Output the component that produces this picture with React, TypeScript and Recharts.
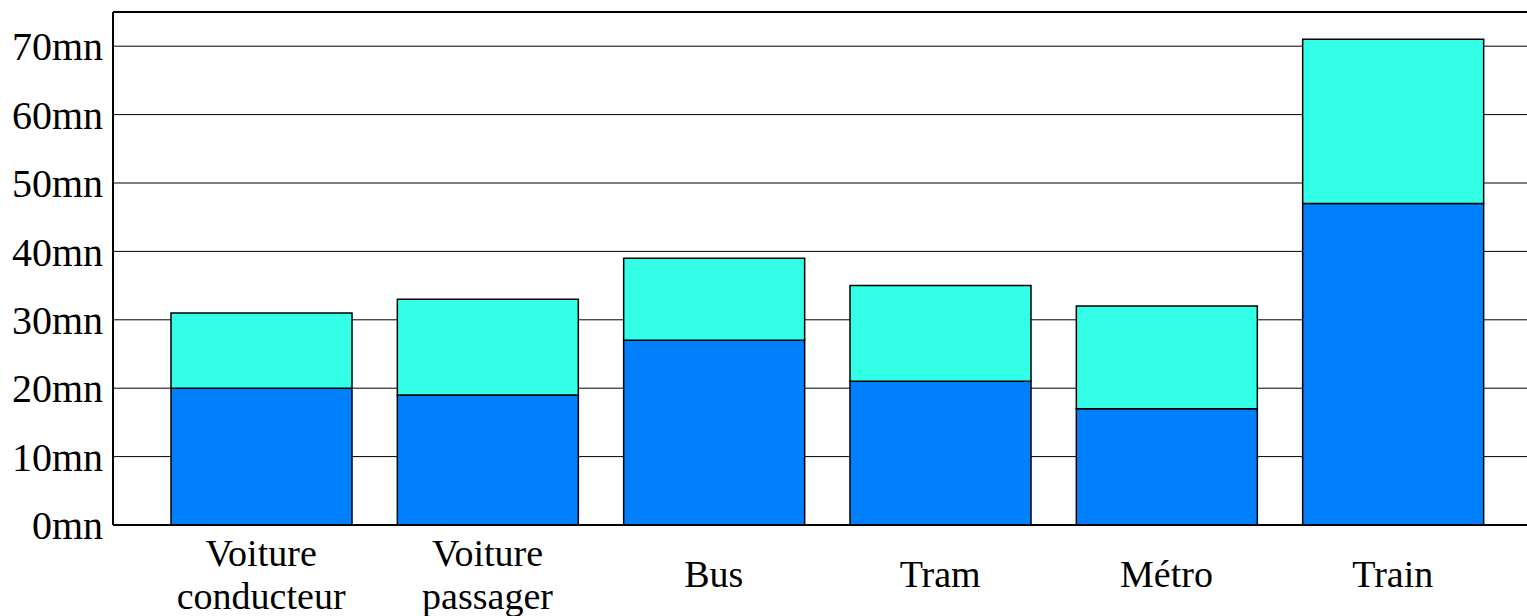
import React from 'react';
import { BarChart, Bar, XAxis, YAxis, CartesianGrid, ReferenceLine } from 'recharts';

const categories = ['Voiture\nconducteur', 'Voiture\npassager', 'Bus', 'Tram', 'Métro', 'Train'];
const lowerValues = [20, 19, 27, 21, 17, 47];
const upperValues = [11, 14, 12, 14, 15, 24];
const yTicks = [0, 10, 20, 30, 40, 50, 60, 70];

const data = categories.map((name, i) => ({
  name,
  lower: lowerValues[i],
  upper: upperValues[i],
}));

const FONT = '"Liberation Serif", "Times New Roman", serif';

// x labels may wrap on two lines; single lines sit between them
const CategoryTick = ({ x, y, payload }: any) => {
  const lines: string[] = String(payload.value).split('\n');
  return (
    <text x={x} y={y} textAnchor="middle" fill="#000" fontSize={38} fontFamily={FONT}>
      {lines.map((line, i) => (
        <tspan key={i} x={x} dy={i === 0 ? (lines.length > 1 ? 41 : 62) : 43}>
          {line}
        </tspan>
      ))}
    </text>
  );
};

export default function App() {
  return (
    <div style={{ position: 'absolute', left: 0, top: 0, background: '#fff' }}>
      <BarChart
        width={1527}
        height={616}
        data={data}
        margin={{ top: 12, right: 0, bottom: 0, left: 0 }}
        barSize={181}
      >
        <CartesianGrid vertical={false} stroke="#000" strokeWidth={1} />
        <XAxis
          dataKey="name"
          height={91}
          padding={{ left: 35, right: 21 }}
          axisLine={{ stroke: '#000', strokeWidth: 2 }}
          tickLine={false}
          tickSize={0}
          tickMargin={0}
          interval={0}
          tick={CategoryTick}
        />
        <YAxis
          width={113}
          domain={[0, 75]}
          ticks={yTicks}
          allowDataOverflow
          axisLine={{ stroke: '#000', strokeWidth: 2 }}
          tickLine={false}
          tickSize={0}
          tickMargin={10}
          tickFormatter={(v: number) => `${v}mn`}
          tick={{ fill: '#000', fontSize: 40, fontFamily: FONT }}
        />
        <ReferenceLine y={75} stroke="#000" strokeWidth={2} />
        <Bar dataKey="lower" stackId="t" fill="#0080FF" stroke="#000" strokeWidth={1.5} isAnimationActive={false} />
        <Bar dataKey="upper" stackId="t" fill="#33FFE6" stroke="#000" strokeWidth={1.5} isAnimationActive={false} />
      </BarChart>
    </div>
  );
}
